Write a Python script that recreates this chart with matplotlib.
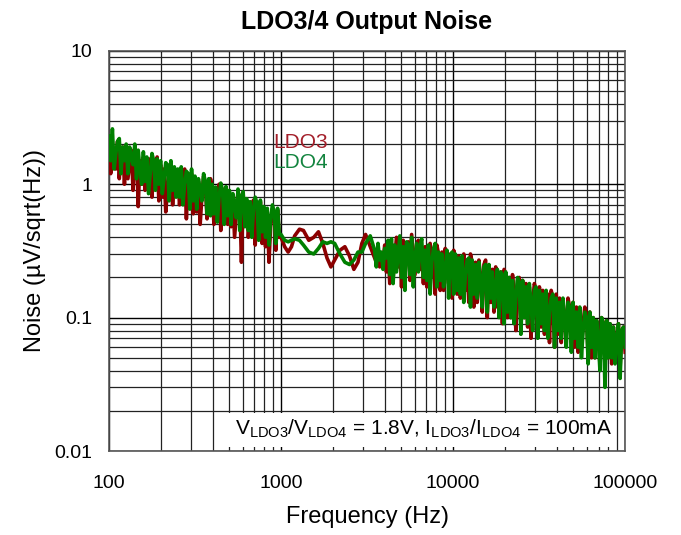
import numpy as np
import matplotlib
matplotlib.use("Agg")
from matplotlib import pyplot as plt
from matplotlib.patches import Rectangle

plt.rcParams['font.family'] = ['Liberation Sans', 'DejaVu Sans']

# noisy band 100 Hz - 1 kHz
ldo3_low = [2.0, 1.2, 1.8, 1.5, 1.3, 2.1, 1.1, 1.7, 1.9, 1.0,
            1.7, 1.1, 1.4, 1.8, 0.9, 1.6, 1.75, 0.68, 1.5, 1.0,
            1.6, 0.9, 1.1, 1.45, 1.55, 0.8, 1.35, 0.95, 1.6, 0.75,
            1.4, 0.8, 1.3, 0.62, 0.9, 1.35, 1.45, 0.7, 1.25, 0.85,
            1.25, 0.7, 0.9, 1.2, 1.3, 0.55, 1.1, 0.75, 1.2, 0.6,
            1.1, 0.62, 1.05, 0.5, 0.8, 1.15, 1.0, 0.55, 0.7, 1.1,
            0.95, 0.5, 0.9, 0.6, 1.0, 0.45, 0.72, 0.92, 0.85, 0.5,
            0.85, 0.48, 0.8, 0.4, 0.6, 0.88, 0.78, 0.26, 0.84, 0.5,
            0.75, 0.4, 0.55, 0.7, 0.76, 0.35, 0.68, 0.42, 0.74, 0.36,
            0.65, 0.34, 0.62, 0.26, 0.5, 0.66, 0.6, 0.32, 0.64, 0.4]
ldo4_low = [2.3, 1.5, 2.6, 1.3, 1.7, 2.1, 2.2, 1.2, 1.9, 1.5,
            2.0, 1.2, 1.9, 1.6, 1.4, 2.0, 1.1, 1.8, 1.3, 1.0,
            1.75, 1.05, 1.6, 0.85, 1.2, 1.7, 1.5, 0.9, 1.55, 1.0,
            1.5, 0.85, 1.1, 1.45, 1.4, 0.75, 1.5, 0.9, 1.35, 0.8,
            1.3, 0.8, 1.35, 0.7, 1.0, 1.25, 1.2, 0.65, 1.3, 0.75,
            1.15, 0.65, 1.1, 0.9, 0.75, 1.2, 1.05, 0.6, 1.1, 0.58,
            1.0, 0.6, 0.95, 0.52, 0.8, 1.02, 0.9, 0.5, 0.96, 0.58,
            0.9, 0.5, 0.85, 0.7, 0.56, 0.92, 0.45, 0.82, 0.88, 0.48,
            0.78, 0.45, 0.74, 0.4, 0.65, 0.8, 0.72, 0.38, 0.76, 0.44,
            0.68, 0.4, 0.66, 0.35, 0.55, 0.7, 0.62, 0.36, 0.66, 0.42]

# smooth band 1 kHz - 3.5 kHz
freq_mid = [1000, 1050, 1100, 1150, 1200, 1280, 1350, 1450, 1550, 1650, 1750, 1850,
            1950, 2050, 2200, 2350, 2500, 2650, 2800, 2950, 3100, 3300, 3500]
ldo3_mid = [0.40, 0.34, 0.31, 0.34, 0.41, 0.46, 0.45, 0.38, 0.40, 0.44, 0.36, 0.28,
            0.24, 0.27, 0.32, 0.34, 0.29, 0.23, 0.26, 0.36, 0.42, 0.34, 0.28]
ldo4_mid = [0.42, 0.38, 0.37, 0.38, 0.39, 0.38, 0.35, 0.31, 0.30, 0.33, 0.37, 0.36,
            0.37, 0.36, 0.30, 0.26, 0.25, 0.27, 0.31, 0.31, 0.36, 0.41, 0.32]

# noisy band 3.5 kHz - 100 kHz
ldo3_high = [0.32, 0.26, 0.33, 0.24, 0.30, 0.27, 0.35, 0.22, 0.31, 0.18,
             0.36, 0.2, 0.28, 0.4, 0.24, 0.34, 0.17, 0.38, 0.22, 0.33,
             0.37, 0.19, 0.42, 0.3, 0.21, 0.35, 0.38, 0.23, 0.33, 0.18,
             0.34, 0.17, 0.25, 0.36, 0.2, 0.32, 0.15, 0.35, 0.3, 0.16,
             0.31, 0.16, 0.33, 0.22, 0.18, 0.3, 0.14, 0.32, 0.28, 0.15,
             0.29, 0.14, 0.22, 0.3, 0.16, 0.27, 0.13, 0.3, 0.26, 0.12,
             0.26, 0.13, 0.27, 0.2, 0.11, 0.25, 0.27, 0.1, 0.24, 0.13,
             0.23, 0.11, 0.24, 0.12, 0.18, 0.22, 0.09, 0.23, 0.21, 0.1,
             0.2, 0.1, 0.21, 0.15, 0.08, 0.19, 0.2, 0.085, 0.19, 0.1,
             0.18, 0.085, 0.17, 0.07, 0.13, 0.18, 0.16, 0.075, 0.17, 0.085,
             0.16, 0.075, 0.12, 0.15, 0.065, 0.16, 0.14, 0.06, 0.15, 0.075,
             0.14, 0.065, 0.13, 0.1, 0.07, 0.14, 0.12, 0.065, 0.13, 0.06,
             0.12, 0.055, 0.11, 0.06, 0.09, 0.12, 0.105, 0.05, 0.11, 0.05,
             0.1, 0.05, 0.095, 0.075, 0.045, 0.1, 0.09, 0.045, 0.095, 0.05,
             0.09, 0.045, 0.085, 0.05, 0.07, 0.09, 0.042, 0.08, 0.085, 0.055]
ldo4_high = [0.34, 0.24, 0.36, 0.27, 0.31, 0.23, 0.33, 0.28, 0.38, 0.21,
             0.39, 0.18, 0.35, 0.22, 0.3, 0.41, 0.2, 0.34, 0.16, 0.37,
             0.35, 0.21, 0.4, 0.17, 0.28, 0.36, 0.22, 0.34, 0.39, 0.2,
             0.32, 0.19, 0.35, 0.15, 0.26, 0.33, 0.36, 0.17, 0.31, 0.19,
             0.3, 0.17, 0.23, 0.32, 0.14, 0.29, 0.31, 0.15, 0.3, 0.16,
             0.28, 0.15, 0.29, 0.13, 0.21, 0.27, 0.28, 0.12, 0.27, 0.15,
             0.25, 0.14, 0.26, 0.19, 0.12, 0.24, 0.25, 0.11, 0.25, 0.14,
             0.22, 0.12, 0.17, 0.23, 0.1, 0.22, 0.21, 0.09, 0.22, 0.11,
             0.2, 0.1, 0.19, 0.09, 0.14, 0.2, 0.18, 0.075, 0.19, 0.1,
             0.17, 0.09, 0.18, 0.13, 0.08, 0.16, 0.17, 0.07, 0.16, 0.09,
             0.15, 0.08, 0.16, 0.07, 0.11, 0.14, 0.15, 0.06, 0.14, 0.08,
             0.13, 0.07, 0.14, 0.1, 0.06, 0.13, 0.12, 0.055, 0.13, 0.07,
             0.11, 0.06, 0.12, 0.05, 0.08, 0.11, 0.1, 0.045, 0.11, 0.06,
             0.1, 0.05, 0.095, 0.07, 0.04, 0.1, 0.09, 0.03, 0.095, 0.05,
             0.09, 0.05, 0.085, 0.045, 0.07, 0.09, 0.035, 0.08, 0.085, 0.06]

# analyzer sweep points (log spaced bins)
freq_low = np.geomspace(100, 1000, len(ldo3_low), endpoint=False)
freq_high = np.geomspace(3500, 100000, len(ldo3_high))[1:]

freq = np.concatenate([freq_low, freq_mid, freq_high])
ldo3 = np.concatenate([ldo3_low, ldo3_mid, ldo3_high[1:]])
ldo4 = np.concatenate([ldo4_low, ldo4_mid, ldo4_high[1:]])

fig = plt.figure(figsize=(6.81, 5.35), dpi=100)
ax = fig.add_axes([0.16, 0.157, 0.758, 0.748])

ax.plot(freq, ldo3, color='#8b0000', lw=2.6, zorder=4)
ax.plot(freq, ldo4, color='#008000', lw=2.6, zorder=5)

ax.set_xscale('log')
ax.set_yscale('log')
ax.set_xlim(100, 100000)
ax.set_ylim(0.01, 10)
ax.set_xticks([100, 1000, 10000, 100000])
ax.set_xticklabels(['100', '1000', '10000', '100000'])
ax.set_yticks([0.01, 0.1, 1, 10])
ax.set_yticklabels(['0.01', '0.1', '1', '10'])
ax.tick_params(which='both', length=0, labelsize=14)
ax.tick_params(axis='x', pad=17)
ax.tick_params(axis='y', pad=12)
ax.grid(True, which='major', color='black', lw=1.0)
ax.grid(True, which='minor', color='#222222', lw=0.9)
for s in ax.spines.values():
    s.set_color('#555555')
    s.set_linewidth(1.2)

ax.set_title('LDO3/4 Output Noise', fontsize=18, fontweight='bold', pad=16)
ax.set_xlabel('Frequency (Hz)', fontsize=17, labelpad=10)
ax.set_ylabel('Noise (µV/sqrt(Hz))', fontsize=17, labelpad=6)

ax.text(0.318, 0.77, 'LDO3', transform=ax.transAxes, color='#a31f2a', fontsize=15,
        ha='left', va='center', zorder=6)
ax.text(0.318, 0.722, 'LDO4', transform=ax.transAxes, color='#13843f', fontsize=15,
        ha='left', va='center', zorder=6)

ax.add_patch(Rectangle((0.215, 0.01), 0.768, 0.085, transform=ax.transAxes,
                       facecolor='white', edgecolor='none', zorder=3))
ax.text(0.975, 0.055,
        r'V$_{\mathregular{LDO3}}$/V$_{\mathregular{LDO4}}$ = 1.8V, '
        r'I$_{\mathregular{LDO3}}$/I$_{\mathregular{LDO4}}$ = 100mA',
        transform=ax.transAxes, fontsize=15, ha='right', va='center', zorder=6)

fig.savefig('out.png', dpi=100)
